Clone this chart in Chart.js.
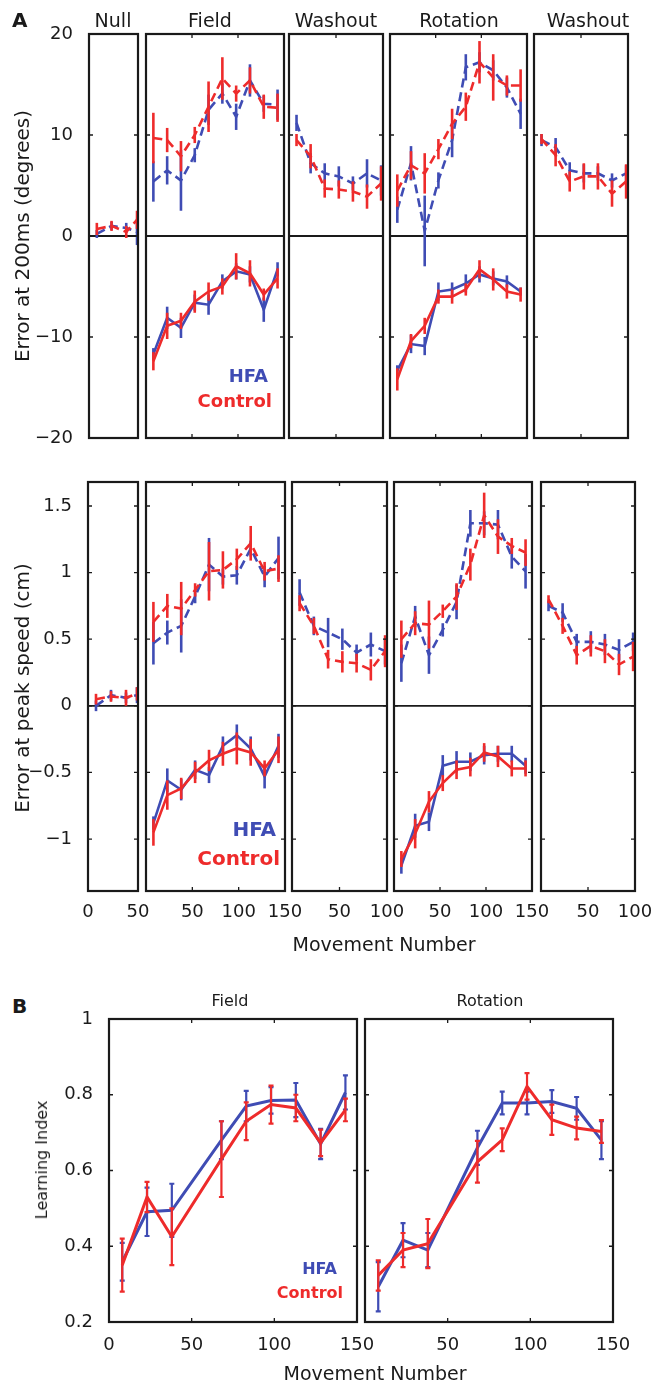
<!DOCTYPE html>
<html><head><meta charset="utf-8">
<script src="https://cdn.jsdelivr.net/npm/chart.js@4"></script>
<style>
body{margin:0;background:#fff;width:655px;height:1387px;position:relative;overflow:hidden;font-family:"DejaVu Sans",sans-serif;color:#1a1a1a}
canvas{position:absolute}
.t{position:absolute;white-space:nowrap;line-height:1}
</style></head><body>
<script>
// ---------- DATA ----------
const BLUE = '#3f4cb4', RED = '#ee2b2b';
// movement numbers
const xNull  = [8, 23, 38, 49];
const xAdapt = [8, 23, 38, 53, 68, 83, 98, 113, 128, 143];
const xWash  = [8, 23, 38, 53, 68, 83, 98];
const xLI    = [8, 23, 38, 68, 83, 98, 113, 128, 143];

// Row 1: error at 200 ms (degrees)
const degNullHFA = [0.2, 1.0, 0.8, 0.4],  degNullHFAErr = [0.4, 0.4, 0.5, 1.3];
const degNullCtl = [0.7, 1.0, 0.4, 1.6],  degNullCtlErr = [0.6, 0.5, 0.6, 0.9];
const degFieldPosHFA = [5.4, 6.5, 5.5, 8.0, 12.5, 14.1, 11.8, 15.4, 13.1, 13.0];
const degFieldPosHFAErr = [2.0, 1.4, 3.0, 0.7, 1.5, 1.0, 1.3, 1.6, 0.8, 1.5];
const degFieldPosCtl = [9.7, 9.5, 7.9, 10.0, 12.8, 15.6, 14.1, 15.4, 12.8, 12.7];
const degFieldPosCtlErr = [2.5, 1.2, 1.5, 0.8, 2.5, 2.1, 0.8, 1.3, 1.2, 1.4];
const degFieldNegHFA = [-11.7, -8.1, -9.1, -6.6, -6.8, -4.5, -3.5, -3.8, -7.3, -3.3];
const degFieldNegHFAErr = [0.6, 1.1, 1.0, 0.8, 1.0, 0.7, 0.8, 0.8, 1.2, 0.7];
const degFieldNegCtl = [-12.4, -8.9, -8.4, -6.5, -5.5, -5.0, -3.0, -3.7, -5.8, -4.2];
const degFieldNegCtlErr = [0.9, 1.3, 0.8, 1.1, 0.9, 0.8, 1.3, 1.3, 0.6, 1.0];
const degWashHFA = [11.2, 7.2, 6.2, 5.9, 5.2, 6.2, 5.5], degWashHFAErr = [0.8, 1.0, 1.0, 1.0, 0.7, 1.4, 1.5];
const degWashCtl = [9.5, 7.9, 4.7, 4.6, 4.4, 3.9, 5.2], degWashCtlErr = [0.6, 1.2, 0.9, 0.9, 1.0, 1.2, 1.7];
const degRotPosHFA = [2.6, 7.2, 0.5, 5.5, 9.5, 16.7, 17.2, 16.4, 14.7, 12.1];
const degRotPosHFAErr = [1.3, 1.7, 3.5, 0.8, 1.7, 1.3, 1.0, 1.0, 1.0, 1.5];
const degRotPosCtl = [4.5, 7.0, 6.2, 8.6, 11.1, 12.8, 17.2, 15.7, 14.9, 14.9];
const degRotPosCtlErr = [1.6, 1.4, 2.0, 1.0, 1.5, 1.4, 2.1, 2.3, 1.0, 1.6];
const degRotNegHFA = [-13.3, -10.7, -10.9, -5.5, -5.3, -4.7, -3.8, -4.2, -4.5, -5.5];
const degRotNegHFAErr = [0.5, 0.9, 0.9, 0.9, 0.7, 0.9, 0.8, 0.7, 0.6, 0.4];
const degRotNegCtl = [-14.2, -10.4, -8.9, -6.0, -6.0, -5.3, -3.3, -4.3, -5.5, -5.8];
const degRotNegCtlErr = [1.1, 0.7, 0.8, 0.7, 0.7, 0.6, 0.9, 1.1, 0.7, 0.7];
const degWash2HFA = [9.5, 8.8, 6.5, 6.2, 6.2, 5.5, 6.2], degWash2HFAErr = [0.6, 0.9, 0.8, 0.9, 0.7, 0.7, 0.8];
const degWash2Ctl = [9.6, 8.0, 5.4, 5.9, 5.9, 4.2, 5.4], degWash2CtlErr = [0.5, 1.1, 1.0, 1.3, 1.3, 1.3, 1.7];

// Row 2: error at peak speed (cm)
const cmNullHFA = [0.0, 0.08, 0.06, 0.08], cmNullHFAErr = [0.04, 0.04, 0.04, 0.06];
const cmNullCtl = [0.05, 0.07, 0.06, 0.09], cmNullCtlErr = [0.04, 0.04, 0.06, 0.05];
const cmFieldPosHFA = [0.47, 0.55, 0.6, 0.82, 1.06, 0.97, 0.98, 1.18, 0.97, 1.11];
const cmFieldPosHFAErr = [0.16, 0.09, 0.2, 0.05, 0.2, 0.06, 0.07, 0.06, 0.08, 0.16];
const cmFieldPosCtl = [0.63, 0.75, 0.73, 0.87, 1.01, 1.02, 1.1, 1.22, 1.01, 1.03];
const cmFieldPosCtlErr = [0.15, 0.09, 0.2, 0.05, 0.22, 0.14, 0.08, 0.13, 0.07, 0.1];
const cmFieldNegHFA = [-0.88, -0.56, -0.63, -0.48, -0.52, -0.3, -0.22, -0.32, -0.53, -0.3];
const cmFieldNegHFAErr = [0.05, 0.09, 0.08, 0.07, 0.06, 0.07, 0.08, 0.09, 0.09, 0.09];
const cmFieldNegCtl = [-0.95, -0.67, -0.62, -0.5, -0.41, -0.36, -0.32, -0.35, -0.47, -0.33];
const cmFieldNegCtlErr = [0.1, 0.11, 0.08, 0.08, 0.08, 0.09, 0.12, 0.1, 0.06, 0.1];
const cmWashHFA = [0.85, 0.6, 0.55, 0.5, 0.4, 0.46, 0.41], cmWashHFAErr = [0.1, 0.07, 0.11, 0.08, 0.06, 0.09, 0.1];
const cmWashCtl = [0.77, 0.6, 0.35, 0.33, 0.32, 0.27, 0.41], cmWashCtlErr = [0.06, 0.06, 0.07, 0.08, 0.07, 0.08, 0.12];
const cmRotPosHFA = [0.32, 0.67, 0.38, 0.57, 0.78, 1.37, 1.37, 1.36, 1.12, 1.01];
const cmRotPosHFAErr = [0.14, 0.08, 0.14, 0.05, 0.13, 0.1, 0.09, 0.11, 0.09, 0.13];
const cmRotPosCtl = [0.5, 0.62, 0.61, 0.71, 0.82, 1.06, 1.43, 1.27, 1.2, 1.15];
const cmRotPosCtlErr = [0.14, 0.09, 0.18, 0.05, 0.1, 0.12, 0.17, 0.13, 0.06, 0.1];
const cmRotNegHFA = [-1.2, -0.9, -0.87, -0.45, -0.42, -0.42, -0.37, -0.36, -0.36, -0.45];
const cmRotNegHFAErr = [0.06, 0.09, 0.07, 0.08, 0.08, 0.07, 0.07, 0.06, 0.06, 0.06];
const cmRotNegCtl = [-1.15, -0.96, -0.72, -0.58, -0.48, -0.46, -0.35, -0.38, -0.47, -0.47];
const cmRotNegCtlErr = [0.06, 0.11, 0.08, 0.06, 0.07, 0.07, 0.07, 0.08, 0.06, 0.06];
const cmWash2HFA = [0.75, 0.7, 0.48, 0.48, 0.46, 0.42, 0.48], cmWash2HFAErr = [0.04, 0.07, 0.06, 0.08, 0.08, 0.08, 0.07];
const cmWash2Ctl = [0.8, 0.6, 0.38, 0.45, 0.41, 0.31, 0.37], cmWash2CtlErr = [0.03, 0.06, 0.07, 0.08, 0.09, 0.08, 0.11];

// Panel B: learning index
const liFieldHFA = [0.359, 0.491, 0.495, 0.68, 0.77, 0.785, 0.786, 0.67, 0.806];
const liFieldHFAErr = [0.05, 0.064, 0.07, 0.05, 0.04, 0.035, 0.045, 0.04, 0.045];
const liFieldCtl = [0.35, 0.53, 0.425, 0.63, 0.73, 0.774, 0.765, 0.673, 0.76];
const liFieldCtlErr = [0.07, 0.04, 0.075, 0.1, 0.05, 0.05, 0.035, 0.035, 0.03];
const liRotHFA = [0.293, 0.416, 0.39, 0.66, 0.778, 0.778, 0.782, 0.764, 0.68];
const liRotHFAErr = [0.065, 0.045, 0.045, 0.045, 0.03, 0.03, 0.03, 0.03, 0.05];
const liRotCtl = [0.323, 0.39, 0.407, 0.623, 0.681, 0.822, 0.734, 0.712, 0.703];
const liRotCtlErr = [0.04, 0.045, 0.065, 0.055, 0.03, 0.035, 0.04, 0.03, 0.03];

// tick values
const degTicks = [-20, -10, 0, 10, 20];
const cmTicks = [-1, -0.5, 0, 0.5, 1, 1.5];
const liTicks = [0.2, 0.4, 0.6, 0.8, 1];
const ticks50 = [0, 50];
const ticks100 = [0, 50, 100];
const ticks150 = [0, 50, 100, 150];

// ---------- DRAWING ----------
const FONT = '"DejaVu Sans", sans-serif';
const fmt = v => String(v).replace('-', '\u2212');

const framePlugin = {
  id: 'frame',
  beforeDatasetsDraw(chart, args, o) {
    if (!o.zero) return;
    const {ctx, chartArea: a} = chart; const y = chart.scales.y.getPixelForValue(0);
    ctx.save(); ctx.strokeStyle = '#1a1a1a'; ctx.lineWidth = 1.8;
    ctx.beginPath(); ctx.moveTo(a.left, y); ctx.lineTo(a.right, y); ctx.stroke(); ctx.restore();
  },
  afterDatasetDraw(chart, args, o) {
    const ds = chart.data.datasets[args.index];
    const xs = chart.scales.x, ys = chart.scales.y, ctx = chart.ctx;
    ctx.save(); ctx.strokeStyle = ds.borderColor; ctx.lineWidth = o.ew; ctx.setLineDash([]);
    ds.data.forEach((p, i) => {
      const e = ds.errs[i]; const x = xs.getPixelForValue(p.x);
      const y1 = ys.getPixelForValue(p.y + e), y2 = ys.getPixelForValue(p.y - e);
      ctx.beginPath(); ctx.moveTo(x, y1); ctx.lineTo(x, y2);
      if (o.cap) { ctx.moveTo(x - o.cap, y1); ctx.lineTo(x + o.cap, y1); ctx.moveTo(x - o.cap, y2); ctx.lineTo(x + o.cap, y2); }
      ctx.stroke();
    });
    ctx.restore();
  },
  afterDatasetsDraw(chart, args, o) {
    const {ctx, chartArea: a} = chart; const xs = chart.scales.x, ys = chart.scales.y;
    ctx.save(); ctx.strokeStyle = '#1a1a1a'; ctx.lineWidth = 1.3; ctx.beginPath();
    ys.ticks.forEach(t => { const y = ys.getPixelForValue(t.value);
      if (y > a.top + 2 && y < a.bottom - 2) { ctx.moveTo(a.left, y); ctx.lineTo(a.left + 4, y); ctx.moveTo(a.right, y); ctx.lineTo(a.right - 4, y); } });
    xs.ticks.forEach(t => { const x = xs.getPixelForValue(t.value);
      if (x > a.left + 2 && x < a.right - 2) { ctx.moveTo(x, a.top); ctx.lineTo(x, a.top + 4); ctx.moveTo(x, a.bottom); ctx.lineTo(x, a.bottom - 4); } });
    ctx.stroke();
    ctx.lineWidth = 2.2; ctx.strokeRect(a.left, a.top, a.right - a.left, a.bottom - a.top);
    ctx.restore();
  }
};

function S(x, y, e, color, dash) { return {x, y, e, color, dash}; }

function makeChart(o) {
  const M = 64, YW = 62, XH = 44;
  const [l, t, r, b] = o.box; const w = r - l, h = b - t;
  const cv = document.createElement('canvas');
  cv.width = w + 2 * M; cv.height = h + 2 * M;
  cv.style.left = (l - M) + 'px'; cv.style.top = (t - M) + 'px';
  cv.style.width = cv.width + 'px'; cv.style.height = cv.height + 'px';
  document.body.appendChild(cv);
  const datasets = o.series.map(s => ({
    data: s.x.map((xv, i) => ({x: xv, y: s.y[i]})), errs: s.e,
    borderColor: s.color, borderWidth: o.lw, borderDash: s.dash ? [9, 5] : [],
    pointRadius: 0, fill: false, tension: 0, order: s.color === RED ? 0 : 1
  }));
  new Chart(cv, {
    type: 'line', data: {datasets},
    options: {
      responsive: false, animation: false, devicePixelRatio: 1,
      layout: {padding: {left: M - YW, right: M, top: M, bottom: M - XH}},
      plugins: {legend: {display: false}, tooltip: {enabled: false}, frame: {zero: o.zero, ew: o.ew, cap: o.cap || 0}},
      scales: {
        x: {type: 'linear', min: 0, max: o.xmax,
          afterBuildTicks: s => { s.ticks = o.xticks.map(v => ({value: v})); },
          afterFit: s => { s.height = XH; },
          grid: {display: false}, border: {display: false},
          ticks: {display: !!o.xlab, padding: o.xpad || 4, maxRotation: 0, minRotation: 0, autoSkip: false,
            color: '#1a1a1a', font: {family: FONT, size: 18},
            callback: v => (o.xlab && o.xlab.includes(v)) ? fmt(v) : ''}},
        y: {type: 'linear', min: o.ymin, max: o.ymax,
          afterBuildTicks: s => { s.ticks = o.yticks.map(v => ({value: v})); },
          afterFit: s => { s.width = YW; },
          grid: {display: false}, border: {display: false},
          ticks: {display: !!o.ylab, padding: 8, color: '#1a1a1a', font: {family: FONT, size: 18},
            callback: v => fmt(v)}}
      }
    },
    plugins: [framePlugin]
  });
}

function txt(s, x, base, size, opt = {}) {
  const d = document.createElement('div'); d.className = 't'; d.textContent = s;
  d.style.fontSize = size + 'px'; d.style.color = opt.color || '#1a1a1a';
  if (opt.bold) d.style.fontWeight = 'bold';
  if (opt.rot) {
    d.style.left = x + 'px'; d.style.top = base + 'px';
    d.style.transform = 'translate(-50%,-50%) rotate(-90deg)';
  } else {
    d.style.top = (base - 0.846 * size) + 'px';
    if (opt.align === 'right') d.style.right = (655 - x) + 'px';
    else if (opt.align === 'left') d.style.left = x + 'px';
    else { d.style.left = x + 'px'; d.style.transform = 'translateX(-50%)'; }
  }
  document.body.appendChild(d);
}

const A = {lw: 2.6, ew: 2.6, zero: true};
// Row 1
const r1 = {ymin: -20, ymax: 20, yticks: degTicks};
makeChart({...A, ...r1, ylab: true, box: [89, 34, 138, 438], xmax: 50, xticks: ticks50, series: [
  S(xNull, degNullHFA, degNullHFAErr, BLUE, true), S(xNull, degNullCtl, degNullCtlErr, RED, true)]});
makeChart({...A, ...r1, box: [146, 34, 284, 438], xmax: 150, xticks: ticks150, series: [
  S(xAdapt, degFieldPosHFA, degFieldPosHFAErr, BLUE, true), S(xAdapt, degFieldPosCtl, degFieldPosCtlErr, RED, true),
  S(xAdapt, degFieldNegHFA, degFieldNegHFAErr, BLUE, false), S(xAdapt, degFieldNegCtl, degFieldNegCtlErr, RED, false)]});
makeChart({...A, ...r1, box: [289, 34, 383, 438], xmax: 100, xticks: ticks100, series: [
  S(xWash, degWashHFA, degWashHFAErr, BLUE, true), S(xWash, degWashCtl, degWashCtlErr, RED, true)]});
makeChart({...A, ...r1, box: [390, 34, 527, 438], xmax: 150, xticks: ticks150, series: [
  S(xAdapt, degRotPosHFA, degRotPosHFAErr, BLUE, true), S(xAdapt, degRotPosCtl, degRotPosCtlErr, RED, true),
  S(xAdapt, degRotNegHFA, degRotNegHFAErr, BLUE, false), S(xAdapt, degRotNegCtl, degRotNegCtlErr, RED, false)]});
makeChart({...A, ...r1, box: [534, 34, 628, 438], xmax: 100, xticks: ticks100, series: [
  S(xWash, degWash2HFA, degWash2HFAErr, BLUE, true), S(xWash, degWash2Ctl, degWash2CtlErr, RED, true)]});
// Row 2
const r2 = {ymin: -1.39, ymax: 1.68, yticks: cmTicks, xpad: 3};
makeChart({...A, ...r2, ylab: true, box: [88, 482, 138, 891], xmax: 50, xticks: ticks50, xlab: [0, 50], series: [
  S(xNull, cmNullHFA, cmNullHFAErr, BLUE, true), S(xNull, cmNullCtl, cmNullCtlErr, RED, true)]});
makeChart({...A, ...r2, box: [146, 482, 285, 891], xmax: 150, xticks: ticks150, xlab: [50, 100, 150], series: [
  S(xAdapt, cmFieldPosHFA, cmFieldPosHFAErr, BLUE, true), S(xAdapt, cmFieldPosCtl, cmFieldPosCtlErr, RED, true),
  S(xAdapt, cmFieldNegHFA, cmFieldNegHFAErr, BLUE, false), S(xAdapt, cmFieldNegCtl, cmFieldNegCtlErr, RED, false)]});
makeChart({...A, ...r2, box: [292, 482, 387, 891], xmax: 100, xticks: ticks100, xlab: [50, 100], series: [
  S(xWash, cmWashHFA, cmWashHFAErr, BLUE, true), S(xWash, cmWashCtl, cmWashCtlErr, RED, true)]});
makeChart({...A, ...r2, box: [394, 482, 532, 891], xmax: 150, xticks: ticks150, xlab: [50, 100, 150], series: [
  S(xAdapt, cmRotPosHFA, cmRotPosHFAErr, BLUE, true), S(xAdapt, cmRotPosCtl, cmRotPosCtlErr, RED, true),
  S(xAdapt, cmRotNegHFA, cmRotNegHFAErr, BLUE, false), S(xAdapt, cmRotNegCtl, cmRotNegCtlErr, RED, false)]});
makeChart({...A, ...r2, box: [541, 482, 635, 891], xmax: 100, xticks: ticks100, xlab: [50, 100], series: [
  S(xWash, cmWash2HFA, cmWash2HFAErr, BLUE, true), S(xWash, cmWash2Ctl, cmWash2CtlErr, RED, true)]});
// Panel B
const B = {lw: 3, ew: 2.2, cap: 2.5, zero: false, ymin: 0.2, ymax: 1, yticks: liTicks, xmax: 150, xticks: ticks150, xpad: 5};
makeChart({...B, ylab: true, box: [109, 1019, 357, 1322], xlab: [0, 50, 100, 150], series: [
  S(xLI, liFieldHFA, liFieldHFAErr, BLUE, false), S(xLI, liFieldCtl, liFieldCtlErr, RED, false)]});
makeChart({...B, box: [365, 1019, 613, 1322], xlab: [50, 100, 150], series: [
  S(xLI, liRotHFA, liRotHFAErr, BLUE, false), S(xLI, liRotCtl, liRotCtlErr, RED, false)]});

// ---------- TEXT ----------
txt('A', 12, 27, 20, {bold: true, align: 'left'});
txt('B', 12, 1013, 20, {bold: true, align: 'left'});
txt('Null', 113, 27, 19); txt('Field', 210, 27, 19); txt('Washout', 336, 27, 19);
txt('Rotation', 459, 27, 19); txt('Washout', 588, 27, 19);
txt('Error at 200ms (degrees)', 22, 236, 20, {rot: true});
txt('Error at peak speed (cm)', 22, 688, 20, {rot: true});
txt('Movement Number', 384, 951, 19);
txt('HFA', 268, 382, 18, {bold: true, align: 'right', color: BLUE});
txt('Control', 272, 407, 18, {bold: true, align: 'right', color: RED});
txt('HFA', 276, 836, 20, {bold: true, align: 'right', color: BLUE});
txt('Control', 280, 865, 20, {bold: true, align: 'right', color: RED});
txt('Field', 230, 1007, 16); txt('Rotation', 490, 1007, 16);
txt('Learning Index', 42, 1160, 16, {rot: true});
txt('Movement Number', 375, 1380, 19);
txt('HFA', 337, 1275, 16, {bold: true, align: 'right', color: BLUE});
txt('Control', 343, 1299, 16, {bold: true, align: 'right', color: RED});
</script>
</body></html>
